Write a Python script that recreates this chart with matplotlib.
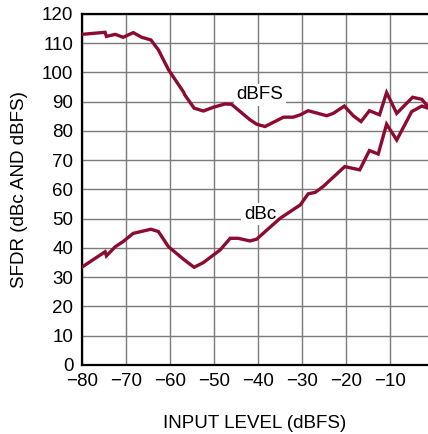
import matplotlib
matplotlib.use("Agg")
import matplotlib.pyplot as plt
from matplotlib import font_manager

# ---- data ----
dbfs_x = [-80, -74.7, -74.4, -72.4, -70.6, -68.3, -66.4, -64.3, -62.6, -60.3, -56.9, -56.6,
          -54.5, -52.4, -50.1, -47.5, -46.0, -41.8, -40.3, -38.4, -34.2, -32.0, -30.4, -28.6,
          -24.4, -22.9, -20.4, -18.3, -16.6, -14.7, -12.4, -10.8, -8.5, -7.0, -4.9, -2.8, -1.4]
dbfs_y = [113.0, 113.7, 112.3, 113.0, 112.0, 113.6, 112.0, 111.1, 107.7, 100.9, 93.3, 92.3,
          87.8, 86.8, 88.1, 89.2, 89.1, 83.8, 82.3, 81.5, 84.7, 84.7, 85.5, 86.9,
          85.2, 86.0, 88.5, 85.1, 83.2, 86.9, 85.5, 93.1, 86.0, 88.3, 91.5, 90.8, 88.3]

dbc_x = [-80, -74.7, -74.4, -72.4, -70.6, -68.3, -64.3, -62.6, -60.3, -56.7, -54.5, -52.4,
         -48.6, -46.3, -44.5, -41.8, -40.3, -35.0, -30.4, -28.6, -27.0, -25.2, -20.3, -16.9,
         -14.7, -12.7, -10.8, -8.5, -5.1, -2.8, -1.4]
dbc_y = [33.4, 38.7, 37.3, 40.4, 42.2, 45.0, 46.4, 45.6, 40.4, 35.9, 33.4, 35.0,
         39.3, 43.3, 43.3, 42.4, 43.0, 50.1, 54.7, 58.5, 59.0, 61.0, 67.8, 66.7,
         73.3, 72.1, 82.3, 76.9, 86.6, 88.5, 87.8]

x_ticks = [-80, -70, -60, -50, -40, -30, -20, -10]
y_ticks = list(range(0, 121, 10))

# ---- fonts ----
names = {f.name for f in font_manager.fontManager.ttflist}
fam = "Liberation Sans Narrow" if "Liberation Sans Narrow" in names else "Liberation Sans"
plt.rcParams["font.family"] = [fam, "DejaVu Sans"]

color = "#8c0b30"
fig = plt.figure(figsize=(4.28, 4.34), dpi=100)
ax = fig.add_axes([0.191, 0.159, 0.809, 0.809])

ax.plot(dbfs_x, dbfs_y, color=color, lw=2.4, solid_joinstyle="miter", zorder=3)
ax.plot(dbc_x, dbc_y, color=color, lw=2.4, solid_joinstyle="miter", zorder=3)

ax.set_xlim(-80, -1.4)
ax.set_ylim(0, 120)
ax.set_xticks(x_ticks)
ax.set_yticks(y_ticks)
ax.set_xticklabels([str(v).replace("-", "\u2212") for v in x_ticks])
ax.grid(True, color="#7a7a7a", lw=1.0, zorder=1)
ax.tick_params(length=0, labelsize=13.5, pad=6, colors="black")

for s in ["left", "bottom", "top"]:
    ax.spines[s].set_linewidth(1.6)
    ax.spines[s].set_color("black")
ax.spines["right"].set_visible(False)

bbox = dict(facecolor="white", edgecolor="none", pad=2)
ax.text(-39.5, 92.3, "dBFS", fontsize=13.5, ha="center", va="center", bbox=bbox, zorder=2)
ax.text(-39.5, 51.6, "dBc", fontsize=13.5, ha="center", va="center", bbox=bbox, zorder=2)

ax.set_xlabel("INPUT LEVEL (dBFS)", fontsize=13.5, labelpad=18)
ax.set_ylabel("SFDR (dBc AND dBFS)", fontsize=13.5, labelpad=10)

fig.savefig("out.png", dpi=100)
